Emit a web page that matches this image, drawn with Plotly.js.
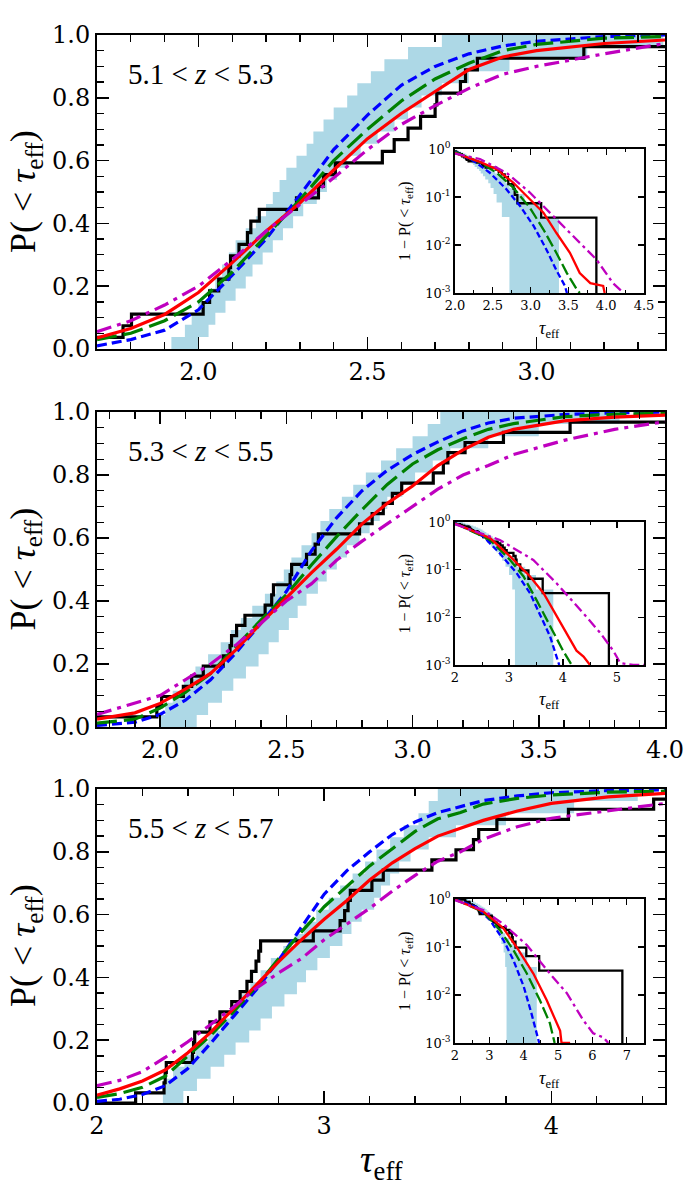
<!DOCTYPE html>
<html><head><meta charset="utf-8">
<script src="https://cdn.plot.ly/plotly-3.0.1.min.js"></script>
<style>html,body{margin:0;padding:0;background:#ffffff}#chart{width:700px;height:1200px}</style>
</head><body><div id="chart"></div>
<script>
// ---------------- Panel 1 : 5.1 < z < 5.3 ----------------
const label1 = "5.1\u00a0&lt;\u00a0<i>z</i>\u00a0&lt;\u00a05.3";
const tau1 = [1.70,1.8,1.9,2.0,2.1,2.2,2.3,2.4,2.5,2.6,2.7,2.8,2.9,3.0,3.2,3.38];
const blue1 = [0.01,0.03,0.06,0.125,0.235,0.35,0.49,0.635,0.745,0.84,0.90,0.94,0.965,0.98,0.995,1.0];
const green1 = [0.03,0.05,0.09,0.15,0.245,0.36,0.475,0.60,0.70,0.79,0.86,0.91,0.95,0.97,0.99,0.995];
const red1 = [0.035,0.065,0.11,0.18,0.275,0.375,0.465,0.57,0.67,0.75,0.82,0.89,0.93,0.95,0.973,0.984];
const mag1 = [0.055,0.09,0.14,0.20,0.285,0.375,0.46,0.545,0.635,0.715,0.775,0.83,0.875,0.90,0.94,0.973];
const obs1 = [1.65,1.777,1.802,2.014,2.033,2.06,2.09,2.095,2.12,2.145,2.155,2.18,2.29,2.355,2.37,2.405,2.544,2.579,2.62,2.657,2.70,2.705,2.775,2.79,2.825,3.14,3.87];
const bandLo1 = [1.92,1.96,1.98,2.00,2.03,2.05,2.07,2.09,2.11,2.14,2.17,2.20,2.22,2.24,2.26,2.29,2.32,2.34,2.37,2.40,2.44,2.47,2.51,2.55,2.62,2.72];
const bandHi1 = [2.00,2.03,2.05,2.08,2.11,2.14,2.16,2.19,2.22,2.25,2.28,2.31,2.35,2.38,2.41,2.44,2.48,2.53,2.58,2.62,2.66,2.72,2.80,2.92,3.15,3.375];
const inBlueX1 = [2.0,2.24,2.46,2.68,2.86,3.04,3.21,3.34,3.455,3.48];
const inBlueY1 = [0.88,0.57,0.32,0.145,0.065,0.025,0.008,0.003,0.0014,0.001];
const inGreenX1 = [2.0,2.33,2.55,2.77,2.99,3.17,3.34,3.48,3.61,3.65];
const inGreenY1 = [0.86,0.53,0.32,0.157,0.06,0.021,0.0069,0.0026,0.0012,0.001];
const inRedX1 = [2.0,2.33,2.55,2.77,2.99,3.17,3.34,3.52,3.65,3.79,3.96,3.98];
const inRedY1 = [0.82,0.54,0.38,0.2,0.09,0.047,0.018,0.0069,0.0026,0.0016,0.0014,0.001];
const inMagX1 = [2.0,2.33,2.68,2.99,3.30,3.57,3.87,4.09,4.23];
const inMagY1 = [0.80,0.62,0.32,0.124,0.04,0.015,0.005,0.0016,0.001];

// ---------------- Panel 2 : 5.3 < z < 5.5 ----------------
const label2 = "5.3\u00a0&lt;\u00a0<i>z</i>\u00a0&lt;\u00a05.5";
const tau2 = [1.75,1.9,2.0,2.1,2.2,2.3,2.4,2.5,2.6,2.7,2.8,2.9,3.0,3.1,3.2,3.3,3.4,3.6,3.8,4.0];
const blue2 = [0.005,0.015,0.04,0.085,0.15,0.235,0.33,0.43,0.56,0.665,0.75,0.815,0.865,0.905,0.94,0.965,0.98,0.992,0.997,1.0];
const green2 = [0.012,0.025,0.06,0.11,0.17,0.255,0.34,0.42,0.515,0.605,0.69,0.77,0.835,0.88,0.915,0.945,0.963,0.985,0.993,0.996];
const red2 = [0.025,0.045,0.075,0.12,0.17,0.245,0.33,0.41,0.49,0.565,0.645,0.71,0.765,0.83,0.88,0.92,0.945,0.972,0.984,0.99];
const mag2 = [0.04,0.075,0.10,0.15,0.20,0.26,0.33,0.40,0.455,0.53,0.59,0.645,0.70,0.755,0.80,0.83,0.865,0.91,0.945,0.969];
const obs2 = [1.72,1.987,2.006,2.092,2.125,2.171,2.25,2.277,2.283,2.303,2.336,2.416,2.442,2.449,2.515,2.521,2.58,2.614,2.627,2.79,2.84,2.884,2.92,2.957,3.082,3.122,3.14,3.208,3.36,3.624,4.85];
const bandLo2 = [2.00,2.02,2.05,2.095,2.14,2.19,2.24,2.28,2.32,2.365,2.415,2.46,2.49,2.52,2.56,2.60,2.635,2.67,2.72,2.765,2.815,2.875,2.935,3.00,3.06,3.11];
const bandHi2 = [2.145,2.19,2.245,2.29,2.34,2.39,2.43,2.47,2.51,2.545,2.58,2.625,2.66,2.70,2.74,2.79,2.83,2.87,2.90,2.96,3.01,3.08,3.15,3.30,3.50,3.82];
const inBlueX2 = [2.0,2.52,2.83,3.14,3.39,3.57,3.76,3.88,3.93];
const inBlueY2 = [0.96,0.5,0.22,0.085,0.032,0.012,0.004,0.0015,0.001];
const inGreenX2 = [2.0,2.65,3.02,3.27,3.51,3.76,4.0,4.16];
const inGreenY2 = [0.94,0.42,0.16,0.072,0.023,0.0064,0.002,0.001];
const inRedX2 = [2.0,2.65,3.02,3.39,3.64,3.88,4.13,4.25,4.38,4.5];
const inRedY2 = [0.925,0.46,0.19,0.072,0.032,0.0105,0.0034,0.002,0.0015,0.001];
const inMagX2 = [2.0,2.83,3.45,3.88,4.38,4.69,4.93,5.06,5.3,5.5];
const inMagY2 = [0.90,0.42,0.16,0.052,0.012,0.0047,0.002,0.0011,0.001,0.001];

// ---------------- Panel 3 : 5.5 < z < 5.7 ----------------
const label3 = "5.5\u00a0&lt;\u00a0<i>z</i>\u00a0&lt;\u00a05.7";
const tau3 = [2.0,2.1,2.2,2.3,2.4,2.5,2.6,2.7,2.8,2.9,3.0,3.1,3.2,3.3,3.4,3.5,3.6,3.7,3.85,4.0,4.25,4.5];
const blue3 = [0.005,0.012,0.027,0.055,0.11,0.19,0.275,0.36,0.455,0.56,0.665,0.74,0.80,0.855,0.895,0.925,0.945,0.963,0.978,0.988,0.995,0.997];
const green3 = [0.018,0.03,0.05,0.085,0.15,0.215,0.29,0.37,0.46,0.545,0.625,0.69,0.755,0.81,0.865,0.905,0.925,0.952,0.97,0.981,0.99,0.993];
const red3 = [0.025,0.045,0.07,0.105,0.16,0.225,0.30,0.375,0.45,0.52,0.585,0.645,0.71,0.765,0.81,0.85,0.875,0.90,0.93,0.954,0.975,0.986];
const mag3 = [0.055,0.072,0.10,0.145,0.195,0.25,0.305,0.365,0.415,0.46,0.52,0.57,0.62,0.675,0.725,0.77,0.80,0.84,0.88,0.907,0.93,0.954];
const obs3 = [2.17,2.295,2.30,2.305,2.42,2.425,2.43,2.497,2.541,2.593,2.63,2.66,2.68,2.70,2.712,2.72,2.952,3.07,3.09,3.105,3.115,3.21,3.26,3.474,3.58,3.657,3.68,3.76,4.075,4.45,6.87];
const bandLo3 = [2.29,2.30,2.335,2.385,2.435,2.49,2.545,2.585,2.625,2.675,2.72,2.765,2.82,2.87,2.91,2.965,3.02,3.07,3.125,3.18,3.23,3.29,3.35,3.415,3.46,3.50];
const bandHi3 = [2.38,2.44,2.50,2.56,2.61,2.67,2.72,2.77,2.825,2.88,2.92,2.97,3.025,3.08,3.12,3.165,3.22,3.25,3.29,3.33,3.38,3.46,3.58,3.80,4.10,4.38];
const inBlueX3 = [2.0,2.63,3.02,3.41,3.70,4.0,4.23,4.38,4.45];
const inBlueY3 = [0.995,0.68,0.36,0.14,0.053,0.015,0.004,0.0016,0.001];
const inGreenX3 = [2.0,2.82,3.31,3.70,4.09,4.47,4.76,4.86,4.9];
const inGreenY3 = [0.98,0.54,0.225,0.086,0.028,0.0078,0.0026,0.0013,0.001];
const inRedX3 = [2.0,2.82,3.41,3.79,4.28,4.67,4.96,5.06,5.1,5.35];
const inRedY3 = [0.975,0.55,0.244,0.1,0.028,0.0078,0.0026,0.0018,0.001,0.001];
const inMagX3 = [2.0,2.82,3.41,4.09,4.76,5.25,5.73,6.02,6.32,6.46];
const inMagY3 = [0.945,0.59,0.30,0.11,0.028,0.011,0.003,0.0016,0.0013,0.001];

// axis settings
const mainXRange = [[1.70,3.38],[1.75,4.0],[2.0,4.5]];
const mainXDtick = [0.5,0.5,1];
const mainXMinor = [0.1,0.1,0.2];
const mainXFmt = ['.1f','.1f','d'];
const insetXRange = [[2.0,4.5],[2.0,5.5],[2.0,7.5]];
const insetXDtick = [0.5,1,1];
const insetXMinor = [0.25,0.5,0.5];
const insetXFmt = ['.1f','d','d'];
const logTickVals = [0.001,0.01,0.1,1];
const logTickText = ['10<sup>-3</sup>','10<sup>-2</sup>','10<sup>-1</sup>','10<sup>0</sup>'];

// ---------- helpers ----------
const W = 700, H = 1200;
const px = v => v / W, py = v => 1 - v / H;
const mainBox = [[35,349],[412,727],[789,1103]];
const insetBox = [[149,293],[522,665],[899,1043]];
const COLORS = {blue:'#0000ff', green:'#008000', red:'#ff0000', mag:'#bf00bf', band:'#add8e6'};
const TINY = 1e-6;

function stepMain(obs, x0, x1) {
  const N = obs.length, x = [x0], y = [0];
  obs.forEach((t, i) => { x.push(t); y.push((i + 1) / N); });
  x.push(x1); y.push(1);
  return {x, y};
}
function stepInset(obs, x0, x1) {
  const N = obs.length, x = [x0], y = [1];
  obs.forEach((t, i) => { x.push(t); y.push(Math.max(1 - (i + 1) / N, TINY)); });
  x.push(x1); y.push(TINY);
  return {x, y};
}
function bandPoly(lo, hi, inset) {
  const n = lo.length, x = [], y = [];
  const f = p => inset ? Math.max(1 - p, TINY) : p;
  for (let k = 0; k < n; k++) { x.push(lo[k], lo[k]); y.push(f(k / n), f((k + 1) / n)); }
  for (let k = n - 1; k >= 0; k--) { x.push(hi[k], hi[k]); y.push(f((k + 1) / n), f(k / n)); }
  return {x, y};
}

const panels = [
  {tau: tau1, blue: blue1, green: green1, red: red1, mag: mag1, obs: obs1, lo: bandLo1, hi: bandHi1, label: label1,
   ib: [inBlueX1, inBlueY1], ig: [inGreenX1, inGreenY1], ir: [inRedX1, inRedY1], im: [inMagX1, inMagY1]},
  {tau: tau2, blue: blue2, green: green2, red: red2, mag: mag2, obs: obs2, lo: bandLo2, hi: bandHi2, label: label2,
   ib: [inBlueX2, inBlueY2], ig: [inGreenX2, inGreenY2], ir: [inRedX2, inRedY2], im: [inMagX2, inMagY2]},
  {tau: tau3, blue: blue3, green: green3, red: red3, mag: mag3, obs: obs3, lo: bandLo3, hi: bandHi3, label: label3,
   ib: [inBlueX3, inBlueY3], ig: [inGreenX3, inGreenY3], ir: [inRedX3, inRedY3], im: [inMagX3, inMagY3]}
];

const traces = [];
const layout = {
  width: W, height: H, autosize: false,
  margin: {l: 0, r: 0, t: 0, b: 0, pad: 0},
  paper_bgcolor: '#ffffff', plot_bgcolor: 'rgb(255,255,255)',
  showlegend: false, annotations: []
};
const tickSerif = 'DejaVu Serif';
const mathSerif = 'Liberation Serif';

panels.forEach((p, i) => {
  const mx = 'x' + (i === 0 ? '' : (i + 1)), my = 'y' + (i === 0 ? '' : (i + 1));
  const ix = 'x' + (i + 4), iy = 'y' + (i + 4);
  const mainLW = 3.2, inLW = 2.3;
  // main panel
  const b = bandPoly(p.lo, p.hi, false);
  traces.push({x: b.x, y: b.y, xaxis: mx, yaxis: my, type: 'scatter', mode: 'lines', fill: 'toself',
    fillcolor: COLORS.band, line: {width: 0, color: COLORS.band}, hoverinfo: 'skip'});
  const s = stepMain(p.obs, mainXRange[i][0] - 0.2, 10);
  traces.push({x: s.x, y: s.y, xaxis: mx, yaxis: my, mode: 'lines', line: {shape: 'hv', color: '#000', width: mainLW}});
  traces.push({x: p.tau, y: p.blue, xaxis: mx, yaxis: my, mode: 'lines', line: {color: COLORS.blue, width: mainLW, dash: '10px,5px'}});
  traces.push({x: p.tau, y: p.green, xaxis: mx, yaxis: my, mode: 'lines', line: {color: COLORS.green, width: mainLW, dash: '20px,7px'}});
  traces.push({x: p.tau, y: p.red, xaxis: mx, yaxis: my, mode: 'lines', line: {color: COLORS.red, width: mainLW}});
  traces.push({x: p.tau, y: p.mag, xaxis: mx, yaxis: my, mode: 'lines', line: {color: COLORS.mag, width: mainLW, dash: '15px,6px,4px,6px'}});
  // inset
  const bi = bandPoly(p.lo, p.hi, true);
  traces.push({x: bi.x, y: bi.y, xaxis: ix, yaxis: iy, type: 'scatter', mode: 'lines', fill: 'toself',
    fillcolor: COLORS.band, line: {width: 0, color: COLORS.band}, hoverinfo: 'skip'});
  const si = stepInset(p.obs, 1.5, 10);
  traces.push({x: si.x, y: si.y, xaxis: ix, yaxis: iy, mode: 'lines', line: {shape: 'hv', color: '#000', width: inLW}});
  traces.push({x: p.ib[0], y: p.ib[1], xaxis: ix, yaxis: iy, mode: 'lines', line: {color: COLORS.blue, width: inLW, dash: '6px,3px'}});
  traces.push({x: p.ig[0], y: p.ig[1], xaxis: ix, yaxis: iy, mode: 'lines', line: {color: COLORS.green, width: inLW, dash: '12px,4px'}});
  traces.push({x: p.ir[0], y: p.ir[1], xaxis: ix, yaxis: iy, mode: 'lines', line: {color: COLORS.red, width: inLW}});
  traces.push({x: p.im[0], y: p.im[1], xaxis: ix, yaxis: iy, mode: 'lines', line: {color: COLORS.mag, width: inLW, dash: '10px,4px,3px,4px'}});

  const common = {showline: true, linewidth: 2, linecolor: '#000', mirror: 'ticks', ticks: 'inside', tickcolor: '#000',
    showgrid: false, zeroline: false};
  layout['xaxis' + (i === 0 ? '' : (i + 1))] = Object.assign({}, common, {
    domain: [px(97), px(665)], anchor: my, range: mainXRange[i], dtick: mainXDtick[i], tick0: 0,
    tickformat: mainXFmt[i], ticklen: 12, tickwidth: 1.5,
    tickfont: {family: tickSerif, size: 24, color: '#000'},
    minor: {dtick: mainXMinor[i], tick0: 0, ticks: 'inside', ticklen: 7, tickwidth: 1.3, tickcolor: '#000', showgrid: false}
  });
  layout['yaxis' + (i === 0 ? '' : (i + 1))] = Object.assign({}, common, {
    domain: [py(mainBox[i][1]), py(mainBox[i][0])], anchor: mx, range: [0, 1], dtick: 0.2, tick0: 0,
    tickformat: '.1f', ticklen: 12, tickwidth: 1.5,
    tickfont: {family: tickSerif, size: 24, color: '#000'},
    minor: {dtick: 0.05, tick0: 0, ticks: 'inside', ticklen: 7, tickwidth: 1.3, tickcolor: '#000', showgrid: false}
  });
  layout['xaxis' + (i + 4)] = Object.assign({}, common, {
    domain: [px(455), px(644)], anchor: iy, range: insetXRange[i], dtick: insetXDtick[i], tick0: 0,
    tickformat: insetXFmt[i], ticklen: 6, tickwidth: 1.2, linewidth: 1.8,
    tickfont: {family: tickSerif, size: 13, color: '#000'},
    minor: {dtick: insetXMinor[i], tick0: 0, ticks: 'inside', ticklen: 3, tickwidth: 1, tickcolor: '#000', showgrid: false}
  });
  layout['yaxis' + (i + 4)] = Object.assign({}, common, {
    domain: [py(insetBox[i][1]), py(insetBox[i][0])], anchor: ix, type: 'log', range: [-3, 0],
    tickmode: 'array', tickvals: logTickVals, ticktext: logTickText, ticklen: 6, tickwidth: 1.2, linewidth: 1.8,
    tickfont: {family: tickSerif, size: 13, color: '#000'}
  });

  // annotations
  const top = mainBox[i][0], bot = mainBox[i][1];
  layout.annotations.push({xref: 'paper', yref: 'paper', x: px(126), y: py(top + 39), xanchor: 'left', yanchor: 'middle',
    text: p.label, showarrow: false, font: {family: mathSerif, size: 29, color: '#000'}});
  layout.annotations.push({xref: 'paper', yref: 'paper', x: px(25), y: py((top + bot) / 2), xanchor: 'center', yanchor: 'middle',
    textangle: -90, text: 'P(\u00a0&lt;\u00a0<i>τ</i><sub>eff</sub>)', showarrow: false, font: {family: mathSerif, size: 36, color: '#000'}});
  const it = insetBox[i][0], ib = insetBox[i][1];
  layout.annotations.push({xref: 'paper', yref: 'paper', x: px(405), y: py((it + ib) / 2), xanchor: 'center', yanchor: 'middle',
    textangle: -90, text: '1\u00a0−\u00a0P(\u00a0&lt;\u00a0<i>τ</i><sub>eff</sub>)', showarrow: false, font: {family: mathSerif, size: 16, color: '#000'}});
  layout.annotations.push({xref: 'paper', yref: 'paper', x: px(549), y: py(ib + 36), xanchor: 'center', yanchor: 'middle',
    text: '<i>τ</i><sub>eff</sub>', showarrow: false, font: {family: mathSerif, size: 18, color: '#000'}});
});
layout.annotations.push({xref: 'paper', yref: 'paper', x: px(381), y: py(1162), xanchor: 'center', yanchor: 'middle',
  text: '<i>τ</i><sub>eff</sub>', showarrow: false, font: {family: mathSerif, size: 38, color: '#000'}});

Plotly.newPlot('chart', traces, layout, {displayModeBar: false, staticPlot: true});
</script></body></html>
